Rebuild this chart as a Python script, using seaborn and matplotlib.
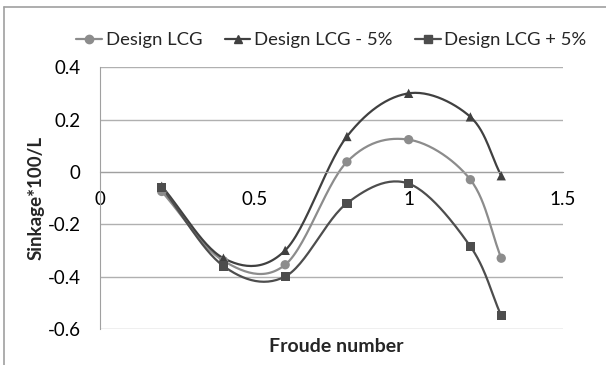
import numpy as np
import pandas as pd
import matplotlib
matplotlib.use('Agg')
import matplotlib.pyplot as plt
import seaborn as sns

# Froude numbers and sinkage values
froude = [0.2, 0.4, 0.6, 0.8, 1.0, 1.2, 1.3]
design_lcg = [-0.075, -0.34, -0.355, 0.038, 0.123, -0.03, -0.33]
lcg_minus_5 = [-0.055, -0.33, -0.30, 0.135, 0.30, 0.21, -0.015]
lcg_plus_5 = [-0.06, -0.36, -0.40, -0.12, -0.045, -0.285, -0.55]

series_names = ['Design LCG', 'Design LCG - 5%', 'Design LCG + 5%']
series_values = [design_lcg, lcg_minus_5, lcg_plus_5]
colors = ['#8c8c8c', '#404040', '#4d4d4d']
markers = ['o', '^', 's']

df = pd.DataFrame({'Froude': froude * 3,
                   'Sinkage': design_lcg + lcg_minus_5 + lcg_plus_5,
                   'Series': np.repeat(series_names, len(froude))})


# Excel-style smoothed line (Catmull-Rom through the points)
def smooth(x, y, n=30):
    x = np.asarray(x, float)
    y = np.asarray(y, float)
    px = np.concatenate([[2 * x[0] - x[1]], x, [2 * x[-1] - x[-2]]])
    py = np.concatenate([[2 * y[0] - y[1]], y, [2 * y[-1] - y[-2]]])
    xs, ys = [], []
    t = np.linspace(0, 1, n)
    for i in range(1, len(px) - 2):
        for p, out in ((px, xs), (py, ys)):
            p0, p1, p2, p3 = p[i - 1], p[i], p[i + 1], p[i + 2]
            out.append(0.5 * (2 * p1 + (-p0 + p2) * t
                              + (2 * p0 - 5 * p1 + 4 * p2 - p3) * t ** 2
                              + (-p0 + 3 * p1 - 3 * p2 + p3) * t ** 3))
    return np.concatenate(xs), np.concatenate(ys)


sns.set_style('white')
plt.rcParams['font.family'] = ['Lato', 'DejaVu Sans']

fig = plt.figure(figsize=(6.06, 3.65), dpi=100)
# cropped chart frame: only left and top edges visible
fig.add_artist(plt.Line2D([0.007, 0.007], [0, 0.981], color='#a0a0a0', lw=1.2))
fig.add_artist(plt.Line2D([0.007, 1], [0.981, 0.981], color='#a0a0a0', lw=1.2))
ax = fig.add_axes([0.165, 0.099, 0.764, 0.717])

for name, vals, c in zip(series_names, series_values, colors):
    sx, sy = smooth(froude, vals)
    ax.plot(sx, sy, color=c, lw=1.6, zorder=2)

sns.scatterplot(data=df, x='Froude', y='Sinkage', hue='Series', style='Series',
                palette=colors, markers=markers, s=45, edgecolor='none',
                legend=False, ax=ax, zorder=3)

# legend handles: line + marker
handles = [plt.Line2D([], [], color=c, marker=m, lw=1.6, markersize=6)
           for c, m in zip(colors, markers)]
fig.legend(handles, series_names, loc='center', bbox_to_anchor=(0.547, 0.89),
           ncol=3, frameon=False, fontsize=13.3, handlelength=1.4,
           handletextpad=0.2, columnspacing=1.2)

ax.set_xlim(0, 1.5)
ax.set_ylim(-0.6, 0.4)
ax.set_xticks([0, 0.5, 1, 1.5])
ax.set_xticklabels(['0', '0.5', '1', '1.5'])
ax.set_yticks([-0.6, -0.4, -0.2, 0, 0.2, 0.4])
ax.set_yticklabels(['-0.6', '-0.4', '-0.2', '0', '0.2', '0.4'])
ax.yaxis.grid(True, color='#b0b0b0', lw=1)
ax.set_axisbelow(True)
for s in ['top', 'right']:
    ax.spines[s].set_visible(False)
ax.spines['left'].set_color('#a0a0a0')
ax.spines['bottom'].set_color('#a0a0a0')
ax.spines['bottom'].set_position(('data', 0))
ax.tick_params(axis='both', length=0, labelsize=13.5, colors='black')
ax.tick_params(axis='y', pad=14)
ax.tick_params(axis='x', pad=14)

ax.set_xlabel('')
ax.set_ylabel('Sinkage*100/L', fontsize=13.5, fontweight='bold', labelpad=2)
fig.text(0.555, 0.05, 'Froude number', ha='center', va='center',
         fontsize=14, fontweight='bold')

fig.savefig('out.png', dpi=100)
